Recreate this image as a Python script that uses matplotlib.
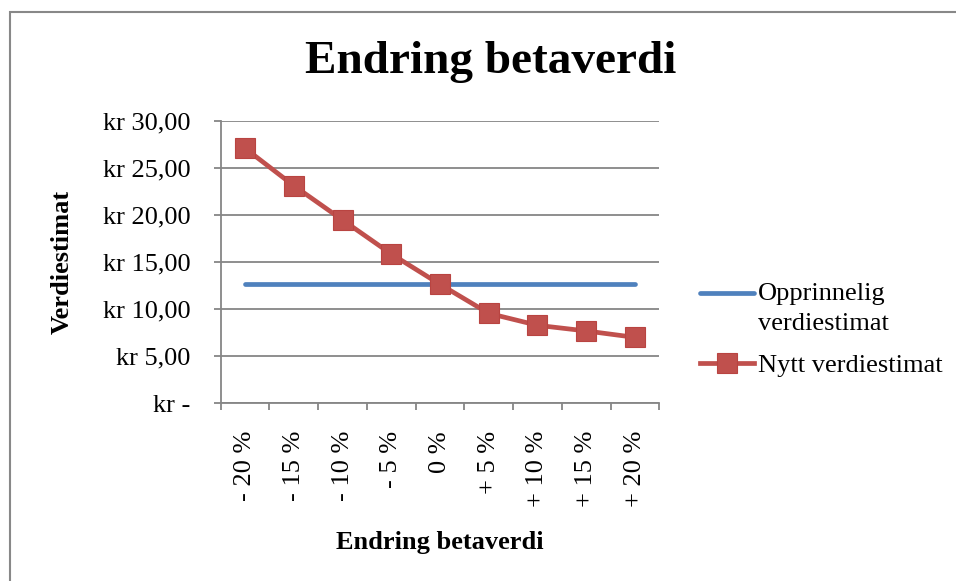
import matplotlib.pyplot as plt
import numpy as np
from matplotlib.patches import Rectangle
from matplotlib.legend_handler import HandlerLine2D

categories = ['- 20 %', '- 15 %', '- 10 %', '- 5 %', '0 %', '+ 5 %', '+ 10 %', '+ 15 %', '+ 20 %']
opprinnelig = [12.63] * 9
nytt = [27.07, 23.10, 19.46, 15.85, 12.63, 9.55, 8.28, 7.68, 7.00]
yticks = [0, 5, 10, 15, 20, 25, 30]
ylabels = ['kr -', 'kr 5,00', 'kr 10,00', 'kr 15,00', 'kr 20,00', 'kr 25,00', 'kr 30,00']

plt.rcParams['font.family'] = ['Liberation Serif', 'DejaVu Serif']


class TopLineHandler(HandlerLine2D):
    # put the legend line next to the first text row instead of the middle
    def create_artists(self, legend, orig_handle, xdescent, ydescent, width, height, fontsize, trans):
        return super().create_artists(legend, orig_handle, xdescent, ydescent - 21.5,
                                      width, height, fontsize, trans)


W, H = 956, 581
fig = plt.figure(figsize=(W / 100, H / 100), dpi=100)
ax = fig.add_axes([220.7 / W, 1 - 403.3 / H, (659.3 - 220.7) / W, (403.3 - 120.7) / H])

grey = '#868686'
x = np.arange(len(categories))
blue, = ax.plot(x, opprinnelig, color='#4F81BD', lw=3.4, solid_capstyle='round',
                label='Opprinnelig\nverdiestimat')
ax.plot(x, nytt, color='#C0504D', lw=3.4, marker='s', markersize=14, markeredgecolor='#B94441',
        markeredgewidth=0.8, label='Nytt verdiestimat')

ax.set_xlim(-0.5, len(categories) - 0.5)
ax.set_ylim(0, 30)
ax.set_yticks(yticks)
ax.set_yticklabels(ylabels, fontsize=19)
ax.set_xticks(np.arange(len(categories) + 1) - 0.5)
ax.set_xticklabels([])
ax.set_xticks(x, minor=True)
ax.set_xticklabels(categories, minor=True, rotation=90, fontsize=19, va='top', ha='center')
ax.tick_params(axis='x', which='minor', length=0, pad=20)
ax.tick_params(axis='x', which='major', length=5, width=1.3, color=grey)
ax.tick_params(axis='y', length=5, width=1.3, color=grey, pad=17)
ax.yaxis.grid(True, color=grey, lw=1.3)
ax.set_axisbelow(True)
for s in ['top', 'right']:
    ax.spines[s].set_visible(False)
for s in ['left', 'bottom']:
    ax.spines[s].set_color(grey)
    ax.spines[s].set_linewidth(1.3)

# axis titles and chart title placed in figure pixels
fig.text(62 / W, 1 - 262 / H, 'Verdiestimat', fontsize=19, fontweight='bold', rotation=90,
         ha='center', va='center')
fig.text(440 / W, 1 - 542 / H, 'Endring betaverdi', fontsize=19, fontweight='bold',
         ha='center', va='center')
fig.text(491 / W, 1 - 62 / H, 'Endring betaverdi', fontsize=34, fontweight='bold',
         ha='center', va='center')

leg = ax.legend(loc='center left', bbox_to_anchor=(689 / W, 1 - 330 / H), bbox_transform=fig.transFigure,
                frameon=False, fontsize=19, handlelength=2.05, handletextpad=0.15, labelspacing=0.72,
                borderaxespad=0, handler_map={blue: TopLineHandler()})
for t in leg.get_texts():
    t.set_linespacing(1.45)

fig.patches.append(Rectangle((10 / W, -0.1), 1.0, 1 - 12 / H + 0.1, transform=fig.transFigure,
                             fill=False, edgecolor='#888888', lw=1.5))

fig.savefig('out.png', dpi=100)
